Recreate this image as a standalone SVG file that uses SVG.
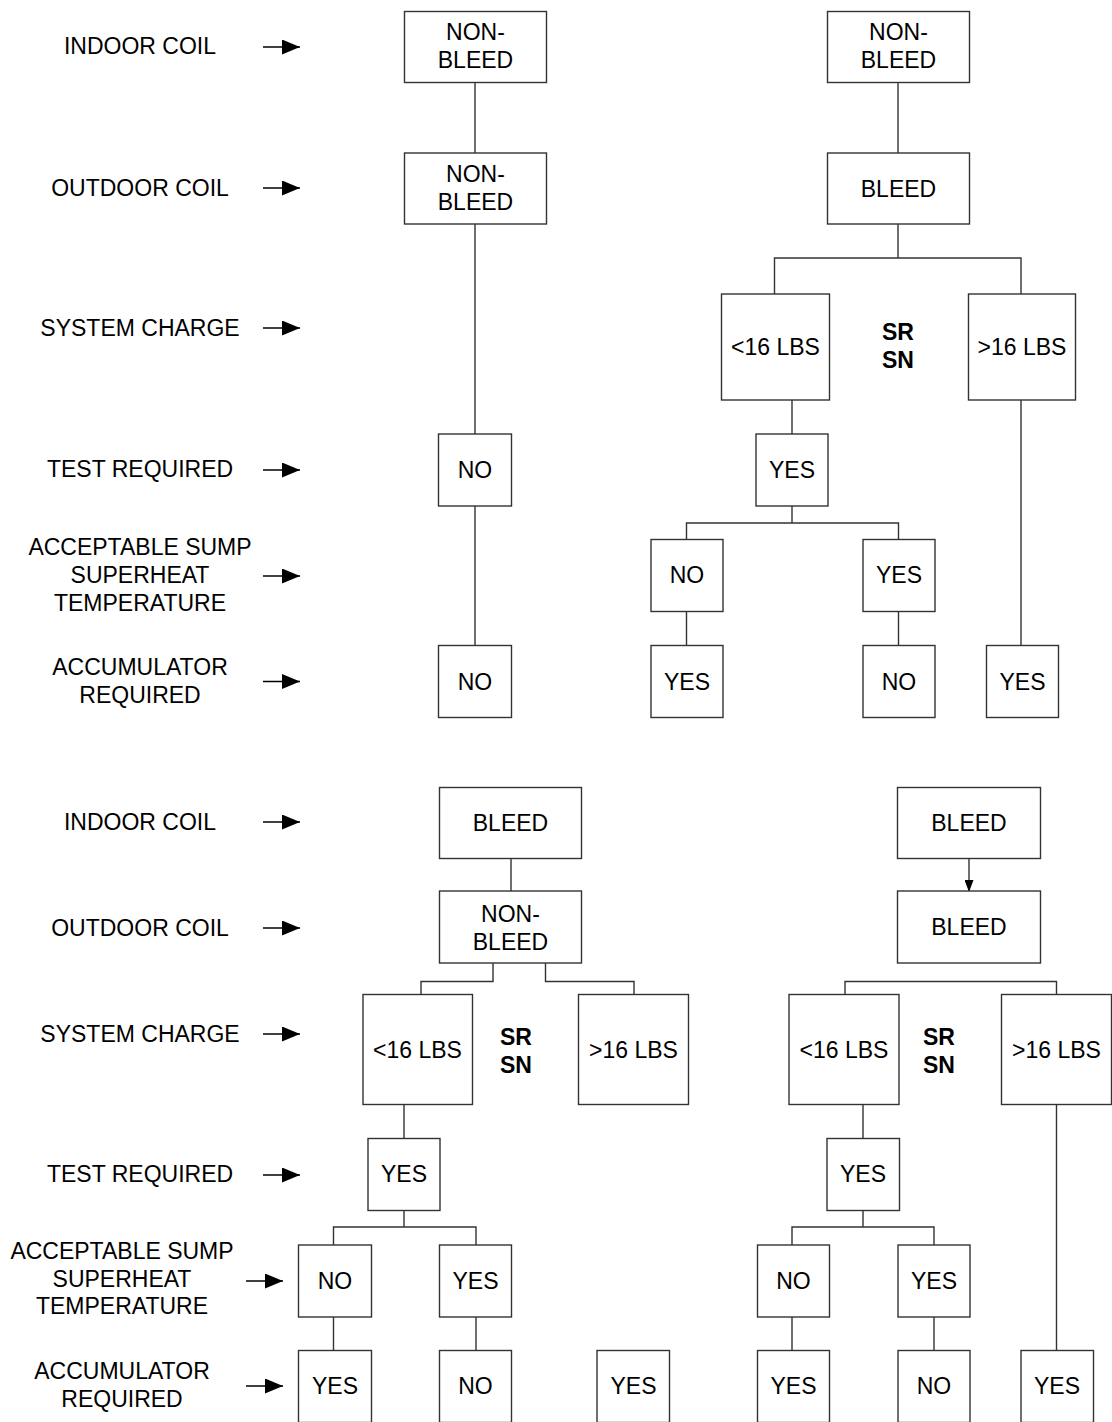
<svg xmlns="http://www.w3.org/2000/svg" width="1112" height="1422" viewBox="0 0 1112 1422">
<style>
rect{fill:#fff;stroke:#333;stroke-width:1.4}
text{font-family:"Liberation Sans",Arial,sans-serif;font-size:23px;fill:#000;text-anchor:middle}
.b{font-weight:bold}
.c{fill:none;stroke:#333;stroke-width:1.4}
.la{fill:none;stroke:#000;stroke-width:1.4}
</style>
<defs>
<marker id="ah" viewBox="0 0 18 15" refX="18" refY="7.5" markerWidth="18" markerHeight="15" markerUnits="userSpaceOnUse" orient="auto"><path d="M0,0 L18,7.5 L0,15 z" fill="#000"/></marker>
<marker id="sh" viewBox="0 0 12 9" refX="12" refY="4.5" markerWidth="12" markerHeight="9" markerUnits="userSpaceOnUse" orient="auto"><path d="M0,0 L12,4.5 L0,9 z" fill="#000"/></marker>
</defs>

<g id="labels">
<text x="140" y="54">INDOOR COIL</text>
<text x="140" y="196">OUTDOOR COIL</text>
<text x="140" y="336">SYSTEM CHARGE</text>
<text x="140" y="477">TEST REQUIRED</text>
<text x="140" y="555">ACCEPTABLE SUMP</text>
<text x="140" y="583">SUPERHEAT</text>
<text x="140" y="611">TEMPERATURE</text>
<text x="140" y="675">ACCUMULATOR</text>
<text x="140" y="703">REQUIRED</text>
<text x="140" y="830">INDOOR COIL</text>
<text x="140" y="936">OUTDOOR COIL</text>
<text x="140" y="1042">SYSTEM CHARGE</text>
<text x="140" y="1182">TEST REQUIRED</text>
<text x="122" y="1259">ACCEPTABLE SUMP</text>
<text x="122" y="1287">SUPERHEAT</text>
<text x="122" y="1314">TEMPERATURE</text>
<text x="122" y="1379">ACCUMULATOR</text>
<text x="122" y="1407">REQUIRED</text>
</g>

<g id="label-arrows">
<line class="la" x1="263" y1="47" x2="300" y2="47" marker-end="url(#ah)"/>
<line class="la" x1="263" y1="188" x2="300" y2="188" marker-end="url(#ah)"/>
<line class="la" x1="263" y1="328" x2="300" y2="328" marker-end="url(#ah)"/>
<line class="la" x1="263" y1="470" x2="300" y2="470" marker-end="url(#ah)"/>
<line class="la" x1="263" y1="576" x2="300" y2="576" marker-end="url(#ah)"/>
<line class="la" x1="263" y1="681.5" x2="300" y2="681.5" marker-end="url(#ah)"/>
<line class="la" x1="263" y1="822" x2="300" y2="822" marker-end="url(#ah)"/>
<line class="la" x1="263" y1="928" x2="300" y2="928" marker-end="url(#ah)"/>
<line class="la" x1="263" y1="1034" x2="300" y2="1034" marker-end="url(#ah)"/>
<line class="la" x1="263" y1="1175" x2="300" y2="1175" marker-end="url(#ah)"/>
<line class="la" x1="246" y1="1281" x2="283" y2="1281" marker-end="url(#ah)"/>
<line class="la" x1="246" y1="1386" x2="283" y2="1386" marker-end="url(#ah)"/>
</g>

<g id="connectors">
<path class="c" d="M475,82.5 V153 M475,224 V434 M475,506 V645.5"/>
<path class="c" d="M898,82.5 V153 M898,224 V258 M774.5,294 V258 H1021 V294"/>
<path class="c" d="M792,400 V434 M792,506 V523 M686.5,539.5 V523 H898.5 V539.5 M686.5,611.5 V645.5 M898.5,611.5 V645.5 M1021,400 V645.5"/>
<path class="c" d="M511,858.5 V891 M493,963 V981.5 H421 V994.5 M545.5,963 V981.5 H634 V994.5"/>
<path class="c" d="M404,1104.5 V1138.5 M404,1210.5 V1227 M333.5,1245 V1227 H476 V1245 M333.5,1317 V1350.5 M476,1317 V1350.5"/>
<line class="c" x1="969" y1="858.5" x2="969" y2="892" marker-end="url(#sh)"/>
<path class="c" d="M845,994.5 V981.5 H1056.5 V994.5"/>
<path class="c" d="M863,1104.5 V1138.5 M863,1210.5 V1227 M792,1245 V1227 H934 V1245 M792,1317 V1350.5 M934,1317 V1350.5 M1056.5,1104.5 V1350.5"/>
</g>

<g id="a1"><rect x="404.5" y="11.5" width="142" height="71"/><text x="475.5" y="40">NON-</text><text x="475.5" y="68">BLEED</text></g>
<g id="a2"><rect x="404.5" y="153" width="142" height="71"/><text x="475.5" y="182">NON-</text><text x="475.5" y="210">BLEED</text></g>
<g id="a3"><rect x="438.5" y="434" width="73" height="72"/><text x="475" y="478">NO</text></g>
<g id="a4"><rect x="438.5" y="645.5" width="73" height="72"/><text x="475" y="689.5">NO</text></g>

<g id="b1"><rect x="827.5" y="11.5" width="142" height="71"/><text x="898.5" y="40">NON-</text><text x="898.5" y="68">BLEED</text></g>
<g id="b2"><rect x="827.5" y="153" width="142" height="71"/><text x="898.5" y="196.5">BLEED</text></g>
<g id="b3"><rect x="721.5" y="294" width="108" height="106"/><text x="775.5" y="355">&lt;16 LBS</text></g>
<g id="b-srsn"><text class="b" x="898" y="340">SR</text><text class="b" x="898" y="368">SN</text></g>
<g id="b4"><rect x="968.5" y="294" width="107" height="106"/><text x="1022" y="355">&gt;16 LBS</text></g>
<g id="b5"><rect x="756" y="434" width="72" height="72"/><text x="792" y="478">YES</text></g>
<g id="b6"><rect x="651" y="539.5" width="72" height="72"/><text x="687" y="583">NO</text></g>
<g id="b7"><rect x="863" y="539.5" width="72" height="72"/><text x="899" y="583">YES</text></g>
<g id="b8"><rect x="651" y="645.5" width="72" height="72"/><text x="687" y="689.5">YES</text></g>
<g id="b9"><rect x="863" y="645.5" width="72" height="72"/><text x="899" y="689.5">NO</text></g>
<g id="b10"><rect x="986.5" y="645.5" width="72" height="72"/><text x="1022.5" y="689.5">YES</text></g>

<g id="d1"><rect x="439.5" y="787.5" width="142" height="71"/><text x="510.5" y="831">BLEED</text></g>
<g id="d2"><rect x="439.5" y="891" width="142" height="72"/><text x="510.5" y="922">NON-</text><text x="510.5" y="950">BLEED</text></g>
<g id="e1"><rect x="363" y="994.5" width="109.5" height="110"/><text x="417.5" y="1058">&lt;16 LBS</text></g>
<g id="e-srsn"><text class="b" x="516" y="1045">SR</text><text class="b" x="516" y="1073">SN</text></g>
<g id="e2"><rect x="578.5" y="994.5" width="110" height="110"/><text x="633.5" y="1058">&gt;16 LBS</text></g>
<g id="e3"><rect x="368" y="1138.5" width="72" height="72"/><text x="404" y="1182">YES</text></g>
<g id="e4"><rect x="298.5" y="1245" width="73" height="72"/><text x="335" y="1289">NO</text></g>
<g id="e5"><rect x="439.5" y="1245" width="72" height="72"/><text x="475.5" y="1289">YES</text></g>
<g id="e6"><rect x="298.5" y="1350.5" width="73" height="72"/><text x="335" y="1394">YES</text></g>
<g id="e7"><rect x="439.5" y="1350.5" width="72" height="72"/><text x="475.5" y="1394">NO</text></g>
<g id="e8"><rect x="597" y="1350.5" width="72.5" height="72"/><text x="633.5" y="1394">YES</text></g>

<g id="f1"><rect x="897.5" y="787.5" width="143" height="71"/><text x="969" y="831">BLEED</text></g>
<g id="f2"><rect x="897.5" y="891" width="143" height="72"/><text x="969" y="935">BLEED</text></g>
<g id="g1"><rect x="789" y="994.5" width="110" height="110"/><text x="844" y="1058">&lt;16 LBS</text></g>
<g id="g-srsn"><text class="b" x="939" y="1045">SR</text><text class="b" x="939" y="1073">SN</text></g>
<g id="g2"><rect x="1001.5" y="994.5" width="110" height="110"/><text x="1056.5" y="1058">&gt;16 LBS</text></g>
<g id="g3"><rect x="827" y="1138.5" width="72.5" height="72"/><text x="863" y="1182">YES</text></g>
<g id="g4"><rect x="757.5" y="1245" width="72" height="72"/><text x="793.5" y="1289">NO</text></g>
<g id="g5"><rect x="898" y="1245" width="72" height="72"/><text x="934" y="1289">YES</text></g>
<g id="g6"><rect x="757.5" y="1350.5" width="72" height="72"/><text x="793.5" y="1394">YES</text></g>
<g id="g7"><rect x="898" y="1350.5" width="72" height="72"/><text x="934" y="1394">NO</text></g>
<g id="g8"><rect x="1021" y="1350.5" width="72.5" height="72"/><text x="1057" y="1394">YES</text></g>
</svg>
